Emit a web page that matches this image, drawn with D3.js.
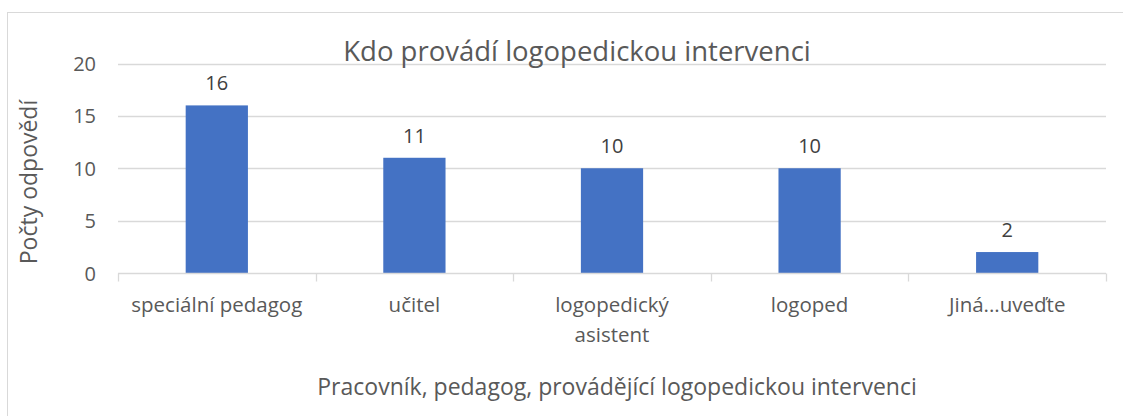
<!DOCTYPE html>
<html>
<head>
<meta charset="utf-8">
<script src="https://cdn.jsdelivr.net/npm/d3@7"></script>
<style>
  body { margin: 0; background: #fff; }
  svg { display: block; font-family: "Open Sans", "Noto Sans", sans-serif; }
</style>
</head>
<body>
<svg id="chart" width="1123" height="416"></svg>
<script>
// data
const categories = [["speciální pedagog"], ["učitel"], ["logopedický", "asistent"], ["logoped"], ["Jiná...uveďte"]];
const values = [16, 11, 10, 10, 2];
const yTicks = [0, 5, 10, 15, 20];
const chartTitle = "Kdo provádí logopedickou intervenci";
const xTitle = "Pracovník, pedagog, provádějící logopedickou intervenci";
const yTitle = "Počty odpovědí";

const svg = d3.select("#chart");
const W = 1123, H = 416;
const plot = { left: 118, right: 1106, top: 63.5, bottom: 273 };

// chart border
svg.append("rect")
  .attr("x", 7.5).attr("y", 12.5)
  .attr("width", W + 20).attr("height", H + 20)
  .attr("fill", "#fff")
  .attr("stroke", "#d9d9d9")
  .attr("stroke-width", 1);

const keys = categories.map((c, i) => i);
const x = d3.scaleBand().domain(keys).range([plot.left, plot.right]).padding(0);
const y = d3.scaleLinear().domain([0, 20]).range([plot.bottom, plot.top]);
const barW = x.bandwidth() * 0.315;

// gridlines
svg.append("g")
  .selectAll("line")
  .data(yTicks.filter(t => t > 0))
  .enter().append("line")
  .attr("x1", plot.left).attr("x2", plot.right)
  .attr("y1", d => Math.round(y(d)) + 0.5).attr("y2", d => Math.round(y(d)) + 0.5)
  .attr("stroke", "#d9d9d9").attr("stroke-width", 1.3);

// y axis labels
const yAxis = d3.axisLeft(y).tickValues(yTicks).tickSize(0).tickPadding(0);
svg.append("g")
  .attr("transform", `translate(${plot.left - 22},0)`)
  .call(yAxis)
  .call(g => {
    g.select(".domain").remove();
    g.selectAll(".tick text")
      .attr("fill", "#595959")
      .attr("font-size", "20px")
      .attr("font-family", "Open Sans, Noto Sans, sans-serif")
      .attr("dy", "0.35em");
  });

// bars
svg.append("g")
  .selectAll("rect")
  .data(values)
  .enter().append("rect")
  .attr("x", (d, i) => x(i) + x.bandwidth() / 2 - barW / 2)
  .attr("y", d => y(d))
  .attr("width", barW)
  .attr("height", d => y(0) - y(d))
  .attr("fill", "#4472c4");

// data labels
svg.append("g")
  .selectAll("text")
  .data(values)
  .enter().append("text")
  .attr("x", (d, i) => x(i) + x.bandwidth() / 2)
  .attr("y", d => y(d) - 22)
  .attr("dy", "0.35em")
  .attr("text-anchor", "middle")
  .attr("fill", "#404040")
  .attr("font-size", "20px")
  .text(d => d);

// x axis line + ticks
const xAxisG = svg.append("g").attr("transform", `translate(0,${plot.bottom + 0.5})`);
xAxisG.append("line")
  .attr("x1", plot.left).attr("x2", plot.right)
  .attr("stroke", "#d9d9d9").attr("stroke-width", 1.3);
xAxisG.selectAll(".tk")
  .data(keys.concat([keys.length]))
  .enter().append("line")
  .attr("class", "tk")
  .attr("x1", d => Math.round(d < keys.length ? x(d) : plot.right) + 0.5)
  .attr("x2", d => Math.round(d < keys.length ? x(d) : plot.right) + 0.5)
  .attr("y1", 0).attr("y2", 8)
  .attr("stroke", "#d9d9d9").attr("stroke-width", 1.3);

// category labels
const catG = svg.append("g")
  .selectAll("text")
  .data(categories)
  .enter().append("text")
  .attr("text-anchor", "middle")
  .attr("fill", "#595959")
  .attr("font-size", "20.5px")
  .attr("x", (d, i) => x(i) + x.bandwidth() / 2)
  .attr("y", 305);
catG.selectAll("tspan")
  .data(d => d)
  .enter().append("tspan")
  .attr("x", function () { return d3.select(this.parentNode).attr("x"); })
  .attr("dy", (d, i) => i === 0 ? "0.35em" : "30px")
  .text(d => d);

// title
svg.append("text")
  .attr("x", 577).attr("y", 51)
  .attr("dy", "0.35em")
  .attr("text-anchor", "middle")
  .attr("fill", "#595959")
  .attr("font-size", "27.5px")
  .text(chartTitle);

// axis titles
svg.append("text")
  .attr("x", 617).attr("y", 387)
  .attr("dy", "0.35em")
  .attr("text-anchor", "middle")
  .attr("fill", "#595959")
  .attr("font-size", "23px")
  .text(xTitle);

svg.append("text")
  .attr("transform", "translate(29,182) rotate(-90)")
  .attr("dy", "0.35em")
  .attr("text-anchor", "middle")
  .attr("fill", "#595959")
  .attr("font-size", "23px")
  .text(yTitle);
</script>
</body>
</html>
